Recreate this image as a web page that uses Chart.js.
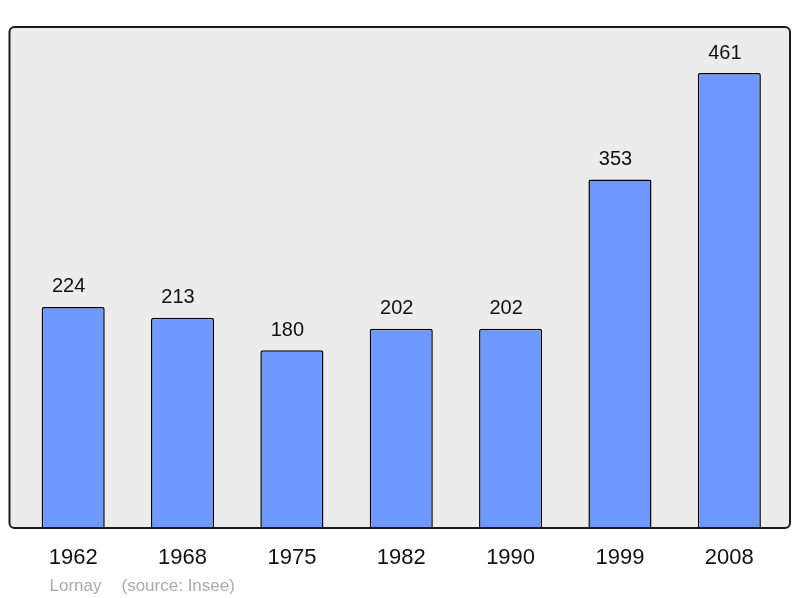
<!DOCTYPE html>
<html>
<head>
<meta charset="utf-8">
<script src="https://cdn.jsdelivr.net/npm/chart.js@4/dist/chart.umd.min.js"></script>
<style>
  html, body { margin: 0; padding: 0; background: #ffffff; }
  #wrap { width: 800px; height: 598px; position: relative; }
</style>
</head>
<body>
<div id="wrap"><canvas id="c" width="800" height="598"></canvas></div>
<script>
const years = ["1962", "1968", "1975", "1982", "1990", "1999", "2008"];
const population = [224, 213, 180, 202, 202, 353, 461];
const commune = "Lornay";
const source = "(source: Insee)";

const framePlugin = {
  id: 'frame',
  beforeDraw(chart) {
    const { ctx, chartArea } = chart;
    const l = chartArea.left - 9, r = chartArea.right + 6;
    const t = chartArea.top, b = chartArea.bottom;
    ctx.save();
    ctx.beginPath();
    ctx.roundRect(l, t, r - l, b - t, 5);
    ctx.fillStyle = '#ececec';
    ctx.fill();
    ctx.restore();
  },
  afterDatasetsDraw(chart) {
    const { ctx, chartArea } = chart;
    const l = chartArea.left - 9, r = chartArea.right + 6;
    const t = chartArea.top, b = chartArea.bottom;
    ctx.save();
    ctx.beginPath();
    ctx.roundRect(l, t, r - l, b - t, 5);
    ctx.lineWidth = 2;
    ctx.strokeStyle = '#1a1a1a';
    ctx.stroke();

    const meta = chart.getDatasetMeta(0);
    ctx.fillStyle = '#111111';
    ctx.textAlign = 'center';
    ctx.textBaseline = 'middle';
    ctx.font = '20px "Liberation Sans", Arial, sans-serif';
    meta.data.forEach((bar, i) => {
      ctx.fillText(String(population[i]), bar.x - 4.5, bar.y - 20);
    });
    ctx.font = '22px "Liberation Sans", Arial, sans-serif';
    const xs = chart.scales.x;
    years.forEach((y, i) => {
      ctx.fillText(y, xs.getPixelForValue(i), b + 30);
    });
    ctx.fillStyle = '#aaaaaa';
    ctx.font = '17px "Liberation Sans", Arial, sans-serif';
    ctx.textAlign = 'left';
    ctx.fillText(commune, l + 40, b + 58);
    ctx.fillText(source, l + 112, b + 58);
    ctx.restore();
  }
};

new Chart(document.getElementById('c'), {
  type: 'bar',
  data: {
    labels: years,
    datasets: [{
      data: population,
      backgroundColor: '#7099ff',
      borderColor: '#000000',
      borderWidth: 1.5,
      borderRadius: 2,
      borderSkipped: 'bottom',
      categoryPercentage: 1,
      barPercentage: 0.577
    }]
  },
  options: {
    responsive: false,
    animation: false,
    devicePixelRatio: 1,
    layout: { padding: { left: 18.5, right: 16, top: 27, bottom: 70 } },
    plugins: { legend: { display: false }, tooltip: { enabled: false } },
    scales: {
      x: { display: false },
      y: { display: false, min: 0, max: 507.6 }
    }
  },
  plugins: [framePlugin]
});
</script>
</body>
</html>
